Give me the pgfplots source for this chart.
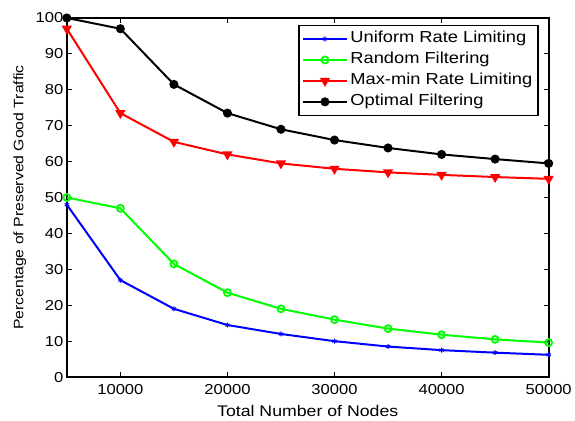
\documentclass[border=0pt]{standalone}
\usepackage{pgfplots}
\pgfplotsset{compat=1.18}
\usepackage{fontspec}
\setmainfont[FakeStretch=1.15]{Liberation Sans}
\begin{document}
\begin{tikzpicture}[x=1bp,y=1bp]
\begin{axis}[
  scale only axis,
  width=483bp, height=360bp,
  xmin=5000, xmax=50000, ymin=0, ymax=100,
  xtick={10000,20000,30000,40000,50000},
  ytick={0,10,...,100},
  scaled x ticks=false,
  xticklabel style={yshift=-4bp,/pgf/number format/.cd,fixed,1000 sep={},assume math mode=true},
  yticklabel style={/pgf/number format/assume math mode=true},
  tick label style={font=\fontsize{14.5}{16}\selectfont},
  xlabel={Total Number of Nodes},
  ylabel={Percentage of Preserved Good Traffic},
  xlabel style={font=\fontsize{15.5}{17}\selectfont,at={(axis description cs:0.5,-0.11)},anchor=base},
  ylabel style={font=\fontsize{13.8}{16}\selectfont,at={(axis description cs:-0.118,0.5)},anchor=north,rotate=0},
  tick align=inside,
  major tick length=5bp,
  axis line style={line width=1.8bp},
  every tick/.style={black,line width=1.2bp},
  legend style={at={(0.979,0.981)},anchor=north east,font=\fontsize{16}{18}\selectfont,draw=black,line width=1.5bp,inner sep=3bp,row sep=0bp,
    nodes={text height=12bp,text depth=4bp,inner sep=2.5bp}},
  legend cell align=left,
  legend image code/.code={%
    \draw[mark repeat=2,mark phase=2,#1] plot coordinates {(0bp,0bp)(22bp,0bp)(44bp,0bp)};},
]
\addplot[blue,line width=2bp,mark=asterisk,mark size=2.5bp,mark options={line width=1bp}] coordinates {
(5000,48)(10000,27)(15000,19)(20000,14.5)(25000,12)(30000,10)(35000,8.5)(40000,7.5)(45000,6.8)(50000,6.2)};
\addlegendentry{Uniform Rate Limiting}
\addplot[green,line width=2bp,mark=o,mark size=3.5bp,mark options={line width=1.8bp}] coordinates {
(5000,50)(10000,47)(15000,31.5)(20000,23.5)(25000,19)(30000,16)(35000,13.5)(40000,11.8)(45000,10.5)(50000,9.6)};
\addlegendentry{Random Filtering}
\addplot[red,line width=2bp,mark=triangle*,mark size=4bp,mark options={rotate=180,fill=red}] coordinates {
(5000,97)(10000,73.5)(15000,65.5)(20000,62)(25000,59.5)(30000,58)(35000,57)(40000,56.3)(45000,55.7)(50000,55.2)};
\addlegendentry{Max-min Rate Limiting}
\addplot[black,line width=2bp,mark=*,mark size=3.5bp] coordinates {
(5000,100)(10000,97)(15000,81.5)(20000,73.5)(25000,69)(30000,66)(35000,63.8)(40000,62)(45000,60.7)(50000,59.5)};
\addlegendentry{Optimal Filtering}
\end{axis}
\useasboundingbox (-67bp,-43bp) rectangle (508bp,378bp);
\end{tikzpicture}
\end{document}
